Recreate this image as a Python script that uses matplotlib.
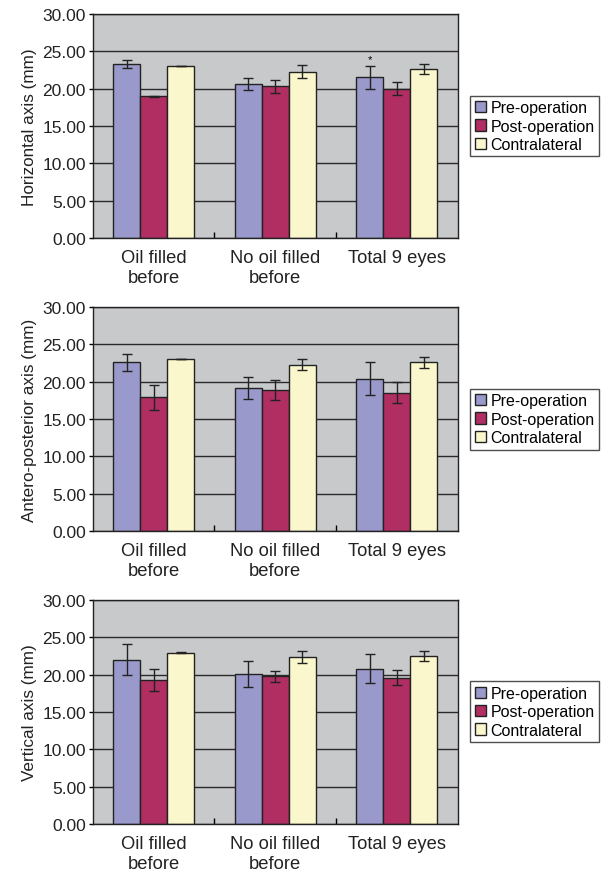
import numpy as np
import matplotlib.pyplot as plt

plt.rcParams['font.family'] = ['Liberation Sans', 'DejaVu Sans']

groups = ['Oil filled\nbefore', 'No oil filled\nbefore', 'Total 9 eyes']
series = ['Pre-operation', 'Post-operation', 'Contralateral']
colors = ['#9A99CB', '#B12E62', '#FBF7CD']

ylabels = ['Horizontal axis (mm)', 'Antero-posterior axis (mm)', 'Vertical axis (mm)']

# means per panel: rows = series (pre, post, contra), cols = groups
horiz_mean = [[23.35, 20.63, 21.5], [18.97, 20.31, 20.0], [23.04, 22.28, 22.6]]
horiz_err = [[0.55, 0.8, 1.5], [0.05, 0.85, 0.85], [0.05, 0.85, 0.7]]
ap_mean = [[22.6, 19.17, 20.4], [17.9, 18.85, 18.54], [23.06, 22.3, 22.6]]
ap_err = [[1.1, 1.5, 2.2], [1.7, 1.35, 1.4], [0.05, 0.75, 0.7]]
vert_mean = [[22.02, 20.1, 20.8], [19.3, 19.8, 19.6], [22.96, 22.38, 22.5]]
vert_err = [[2.05, 1.75, 1.9], [1.5, 0.75, 1.0], [0.05, 0.85, 0.65]]

panels = [(horiz_mean, horiz_err), (ap_mean, ap_err), (vert_mean, vert_err)]

fig = plt.figure(figsize=(6.03, 8.78), dpi=100)
bottoms = [0.7278, 0.394, 0.0604]

x = np.arange(len(groups))
w = 0.222
for k, (means, errs) in enumerate(panels):
    ax = fig.add_axes([0.154, bottoms[k], 0.605, 0.2551])
    ax.set_facecolor('#C8C9CB')
    ax.set_axisbelow(True)
    ax.yaxis.grid(True, color='#2a2a2a', lw=1)
    for i in range(3):
        ax.bar(x + (i - 1) * w, means[i], w, yerr=errs[i], color=colors[i],
               edgecolor='#222222', lw=1, label=series[i],
               error_kw=dict(ecolor='#222222', elinewidth=1, capsize=3.5, capthick=1))
    if k == 0:
        ax.text(x[2] - w, 23.3, '*', ha='center', va='bottom', fontsize=8)
    ax.set_xlim(-0.5, 2.5)
    ax.set_ylim(0, 30)
    ax.set_yticks(np.arange(0, 31, 5))
    ax.set_yticklabels(['%.2f' % v for v in np.arange(0, 31, 5)], fontsize=12.5, color='#222222')
    ax.tick_params(axis='y', direction='out', length=3, width=1, pad=2)
    ax.set_xticks([0.5, 1.5])
    ax.set_xticklabels([])
    ax.tick_params(axis='x', direction='in', length=4, width=1)
    ax.set_xticks(x, minor=True)
    ax.set_xticklabels(groups, minor=True, fontsize=13.2, color='#222222', linespacing=1.25)
    ax.tick_params(axis='x', which='minor', length=0, pad=8)
    ax.set_ylabel(ylabels[k], fontsize=12.3, color='#222222', labelpad=4)
    for s in ax.spines.values():
        s.set_color('#222222')
        s.set_linewidth(1)
    leg = ax.legend(loc='center left', bbox_to_anchor=(1.033, 0.5), fontsize=11.5,
                    frameon=True, fancybox=False, handlelength=0.7, handleheight=0.7,
                    handletextpad=0.3, borderpad=0.3, labelspacing=0.2, borderaxespad=0)
    leg.get_frame().set_edgecolor('#222222')
    leg.get_frame().set_linewidth(1)

fig.savefig('out.png', dpi=100)
